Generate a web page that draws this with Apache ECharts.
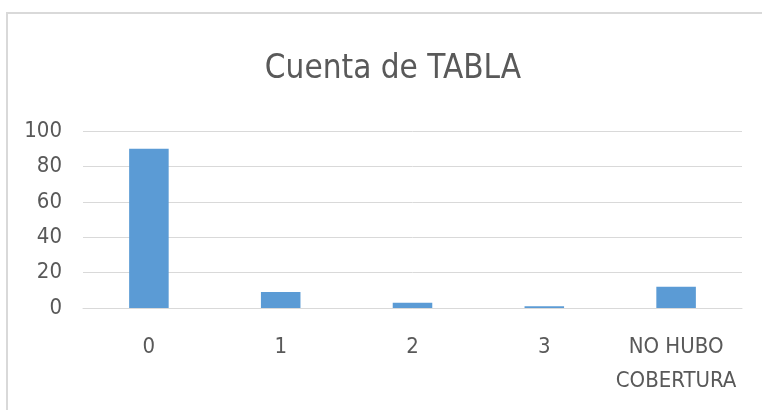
<!DOCTYPE html>
<html>
<head>
<meta charset="utf-8">
<script src="https://cdn.jsdelivr.net/npm/echarts@6/dist/echarts.min.js"></script>
<style>
  html, body { margin: 0; padding: 0; background: #fff; }
  #chart { width: 762px; height: 410px; }
</style>
</head>
<body>
<div id="chart"></div>
<script>
// datos
const categories = ['0', '1', '2', '3', 'NO HUBO\nCOBERTURA'];
const counts = [90, 9, 3, 1, 12];
const yTicks = [0, 20, 40, 60, 80, 100];

const font = "'DejaVu Sans Condensed', sans-serif";
const textColor = '#595959';

const myChart = echarts.init(document.getElementById('chart'));

const option = {
    animation: false,
    title: {
        text: 'Cuenta de TABLA',
        left: 388,
        top: 48,
        textAlign: 'center',
        textStyle: {
            fontFamily: font,
            fontSize: 33,
            fontWeight: 'normal',
            color: textColor
        }
    },
    // borde del área del gráfico
    graphic: [{
        type: 'rect',
        shape: { x: 7, y: 13, width: 800, height: 450 },
        style: { fill: 'none', stroke: '#d9d9d9', lineWidth: 2 }
    }],
    grid: {
        left: 83,
        right: 20,
        top: 131,
        bottom: 102
    },
    xAxis: {
        type: 'category',
        data: categories,
        axisTick: { show: false },
        axisLine: { lineStyle: { color: '#d9d9d9', width: 1 } },
        axisLabel: {
            margin: 22,
            interval: 0,
            fontFamily: font,
            fontSize: 22,
            lineHeight: 34,
            color: textColor
        }
    },
    yAxis: {
        type: 'value',
        min: yTicks[0],
        max: yTicks[yTicks.length - 1],
        interval: 20,
        axisLine: { show: false },
        axisTick: { show: false },
        splitLine: { lineStyle: { color: '#d9d9d9', width: 1 } },
        axisLabel: {
            margin: 21,
            fontFamily: font,
            fontSize: 22,
            color: textColor
        }
    },
    series: [{
        type: 'bar',
        data: counts,
        barWidth: '30%',
        itemStyle: { color: '#5b9bd5' }
    }]
};

myChart.setOption(option);
</script>
</body>
</html>
